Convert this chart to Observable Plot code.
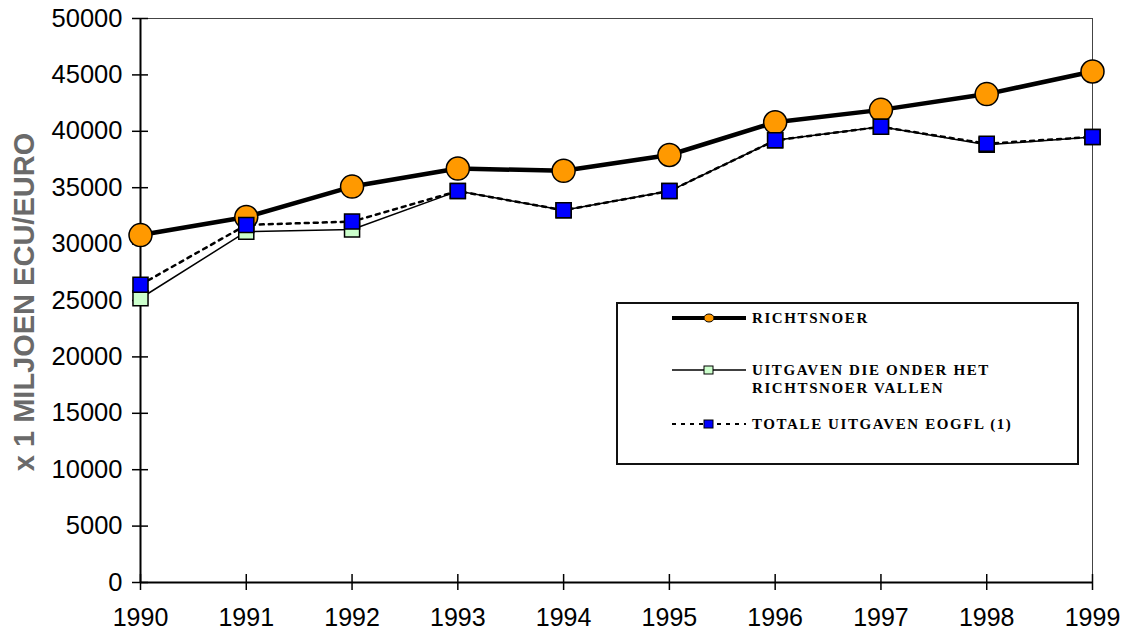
<!DOCTYPE html>
<html>
<head>
<meta charset="utf-8">
<script src="https://cdn.jsdelivr.net/npm/d3@7"></script>
<script src="https://cdn.jsdelivr.net/npm/@observablehq/plot@0.6"></script>
<style>
  html, body { margin: 0; padding: 0; background: #fff; }
  #wrap { position: relative; width: 1131px; height: 637px; }
  #ytitle {
    position: absolute; left: 24px; top: 302px;
    transform: translate(-50%, -50%) rotate(-90deg);
    white-space: nowrap; font-family: "Liberation Sans", Arial, sans-serif;
    font-weight: bold; font-size: 29px; color: #6a6a6a;
  }
  #legend {
    position: absolute; left: 616px; top: 302px; width: 459px; height: 159px;
    border: 2px solid #111; background: #fff;
    font-family: "Liberation Serif", "Times New Roman", serif; font-weight: bold;
    font-size: 15px; letter-spacing: 1.6px; color: #000;
  }
  .row { position: absolute; left: 52px; display: flex; align-items: flex-start; }
  .row svg { flex: none; }
  .row span { line-height: 18px; margin-left: 4px; }
</style>
</head>
<body>
<div id="wrap"></div>
<script>
const years = [1990, 1991, 1992, 1993, 1994, 1995, 1996, 1997, 1998, 1999];
const richtsnoer = [30800, 32400, 35100, 36700, 36500, 37900, 40800, 41900, 43300, 45300];
const uitgavenRichtsnoer = [25200, 31100, 31300, 34700, 33000, 34700, 39200, 40400, 38800, 39500];
const totaleUitgaven = [26400, 31700, 32000, 34700, 33000, 34700, 39200, 40400, 38900, 39500];
const yTicks = [0, 5000, 10000, 15000, 20000, 25000, 30000, 35000, 40000, 45000, 50000];
const seriesNames = ["RICHTSNOER", "UITGAVEN DIE ONDER HET\nRICHTSNOER VALLEN", "TOTALE UITGAVEN EOGFL (1)"];
const yTitle = "x 1 MILJOEN ECU/EURO";

const rows = (vals) => years.map((y, i) => ({year: y, value: vals[i]}));
const r1 = rows(richtsnoer), r2 = rows(uitgavenRichtsnoer), r3 = rows(totaleUitgaven);

const chart = Plot.plot({
  width: 1131, height: 637,
  marginLeft: 140, marginRight: 39, marginTop: 18, marginBottom: 55,
  style: {fontFamily: "'Liberation Sans', Arial, sans-serif", fontSize: "25px", color: "#000", background: "#fff", overflow: "visible"},
  x: {domain: [1990, 1999], ticks: years, tickFormat: "d"},
  y: {domain: [0, 50000], ticks: yTicks},
  marks: [
    Plot.frame({stroke: "#444", strokeWidth: 1}),
    Plot.axisY({ticks: yTicks, tickSize: 0, tickPadding: 18, fontSize: 25.5, label: null, tickFormat: d => String(d)}),
    Plot.axisX({ticks: years, tickSize: 0, tickPadding: 26, fontSize: 25, label: null, tickFormat: d => String(d)}),
    Plot.ruleY(yTicks, {y: d => d, x1: 1990, x2: 1990, insetLeft: -8, insetRight: -8, stroke: "#000", strokeWidth: 1.5}),
    Plot.ruleX(years, {x: d => d, y1: 0, y2: 0, insetTop: -8, insetBottom: -8, stroke: "#000", strokeWidth: 1.5}),
    Plot.ruleX([1990], {stroke: "#000", strokeWidth: 2}),
    Plot.ruleY([0], {stroke: "#000", strokeWidth: 2}),
    Plot.line(r3, {x: "year", y: "value", stroke: "#000", strokeWidth: 2.5, strokeDasharray: "4,5"}),
    Plot.line(r2, {x: "year", y: "value", stroke: "#000", strokeWidth: 1.5}),
    Plot.line(r1, {x: "year", y: "value", stroke: "#000", strokeWidth: 4.5}),
    Plot.dot(r1, {x: "year", y: "value", r: 11.5, fill: "#FF9900", stroke: "#000", strokeWidth: 1.5}),
    Plot.dot(r2, {x: "year", y: "value", symbol: "square", r: 8.5, fill: "#CCFFCC", stroke: "#000", strokeWidth: 1.5}),
    Plot.dot(r3, {x: "year", y: "value", symbol: "square", r: 8.5, fill: "#0000FF", stroke: "#000", strokeWidth: 1.5})
  ]
});

const wrap = document.getElementById("wrap");
wrap.appendChild(chart);

const t = document.createElement("div");
t.id = "ytitle";
t.textContent = yTitle;
wrap.appendChild(t);

const legend = document.createElement("div");
legend.id = "legend";
const sample = (kind) => {
  if (kind === 0) return `<svg width="78" height="18"><line x1="2" y1="9" x2="76" y2="9" stroke="#000" stroke-width="4"/><ellipse cx="39" cy="9" rx="5" ry="4" fill="#FF9900" stroke="#000" stroke-width="1"/></svg>`;
  if (kind === 1) return `<svg width="78" height="18"><line x1="2" y1="9" x2="76" y2="9" stroke="#000" stroke-width="1.5"/><rect x="34" y="5" width="9" height="8" fill="#CCFFCC" stroke="#000" stroke-width="1"/></svg>`;
  return `<svg width="78" height="18"><line x1="2" y1="9" x2="76" y2="9" stroke="#000" stroke-width="2" stroke-dasharray="4,5"/><rect x="34" y="5" width="9" height="8" fill="#0000FF" stroke="#000" stroke-width="1"/></svg>`;
};
const tops = [5, 57, 111];
seriesNames.forEach((name, i) => {
  const row = document.createElement("div");
  row.className = "row";
  row.style.top = tops[i] + "px";
  row.innerHTML = sample(i) + `<span>${name.replace("\n", "<br>")}</span>`;
  legend.appendChild(row);
});
wrap.appendChild(legend);
</script>
</body>
</html>
